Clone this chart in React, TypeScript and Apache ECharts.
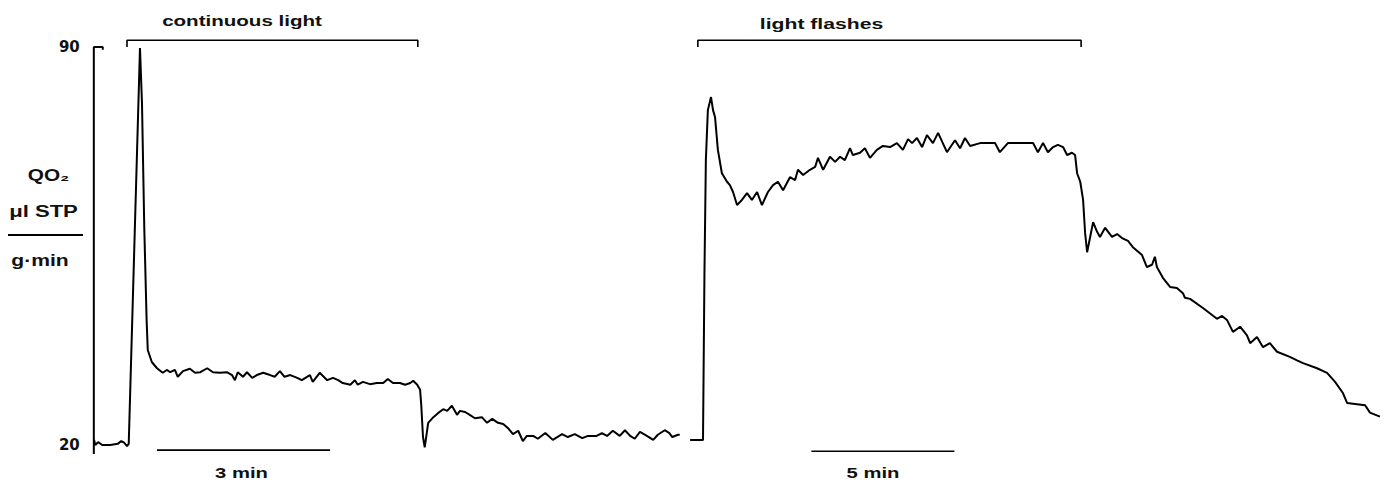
import React, { useEffect, useRef } from "react";
import * as echarts from "echarts";

// ---- data (minutes, QO2 in µl STP / g·min) ----
const leftTrace: [number, number][] = [
  [-0.09, 20.9], [-0.07, 20.0], [-0.02, 20.5], [0.05, 20.0], [0.19, 20.0], [0.32, 20.2],
  [0.38, 20.7], [0.43, 20.4], [0.48, 19.8], [0.51, 20.2], [0.705, 89.8], [0.74, 80],
  [0.78, 58], [0.82, 42], [0.84, 36.7], [0.91, 34.6], [1.0, 33.5], [1.1, 32.7],
  [1.17, 33.2], [1.23, 32.8], [1.31, 33.2], [1.36, 32.0], [1.45, 33.0], [1.57, 33.4],
  [1.66, 32.7], [1.75, 32.8], [1.87, 33.5], [1.97, 32.8], [2.09, 32.7], [2.21, 32.8],
  [2.3, 32.3], [2.35, 31.4], [2.4, 32.8], [2.49, 32.0], [2.56, 32.8], [2.65, 31.8],
  [2.73, 32.3], [2.84, 32.7], [2.96, 32.3], [3.04, 32.0], [3.13, 33.0], [3.21, 32.0],
  [3.31, 32.3], [3.43, 31.8], [3.51, 31.4], [3.65, 32.3], [3.7, 31.1], [3.82, 32.7],
  [3.95, 31.4], [4.05, 31.8], [4.14, 31.4], [4.22, 30.9], [4.35, 30.6], [4.43, 31.4],
  [4.48, 30.6], [4.57, 31.1], [4.69, 30.7], [4.81, 30.9], [4.92, 30.9], [5.0, 31.6],
  [5.09, 30.9], [5.21, 30.9], [5.3, 30.6], [5.39, 30.9], [5.44, 31.3], [5.51, 30.6],
  [5.56, 29.7], [5.58, 27.0], [5.61, 21.4], [5.64, 19.6], [5.7, 23.9], [5.79, 24.9],
  [5.87, 25.6], [5.96, 26.3], [6.03, 26.0], [6.11, 26.9], [6.2, 25.3], [6.25, 26.0],
  [6.34, 25.8], [6.42, 25.3], [6.51, 24.7], [6.63, 24.9], [6.72, 23.9], [6.81, 24.6],
  [6.91, 23.9], [7.0, 23.7], [7.08, 23.0], [7.17, 21.9], [7.26, 22.5], [7.34, 20.7],
  [7.41, 21.6], [7.52, 21.6], [7.6, 21.1], [7.73, 22.1], [7.86, 20.9], [8.02, 21.9],
  [8.12, 21.4], [8.24, 21.9], [8.37, 21.2], [8.47, 21.6], [8.62, 21.6], [8.71, 22.1],
  [8.8, 21.6], [8.9, 22.5], [9.02, 21.6], [9.11, 22.6], [9.2, 21.6], [9.28, 21.1],
  [9.37, 22.3], [9.49, 21.6], [9.6, 20.9], [9.68, 21.8], [9.8, 22.6], [9.88, 22.1],
  [9.93, 21.4], [10.03, 21.8], [10.06, 21.8],
];

const rightTrace: [number, number][] = [
  [-0.24, 20.9], [0.21, 20.9], [0.26, 50], [0.31, 70.1], [0.38, 78.9], [0.49, 81.2],
  [0.56, 78.9], [0.63, 77.7], [0.73, 71.9], [0.87, 67.8], [1.05, 66.3], [1.15, 65.7],
  [1.26, 64.5], [1.4, 62.2], [1.57, 63.1], [1.75, 64.3], [1.92, 63.1], [2.1, 64.5],
  [2.27, 62.2], [2.48, 64.5], [2.66, 65.7], [2.83, 66.3], [3.01, 64.8], [3.25, 67.1],
  [3.43, 66.6], [3.53, 68.4], [3.71, 67.5], [3.95, 68.4], [4.13, 68.9], [4.23, 70.5],
  [4.41, 68.4], [4.65, 70.7], [4.83, 69.8], [5.0, 70.7], [5.17, 70.1], [5.35, 72.2],
  [5.45, 71.0], [5.7, 71.4], [5.87, 72.2], [6.05, 70.5], [6.29, 71.9], [6.5, 72.6],
  [6.75, 72.4], [6.99, 73.1], [7.2, 71.9], [7.38, 73.8], [7.52, 73.1], [7.69, 74.0],
  [7.87, 72.4], [8.04, 74.5], [8.25, 73.1], [8.43, 74.9], [8.74, 71.5], [9.02, 73.6],
  [9.2, 72.2], [9.37, 74.0], [9.55, 72.6], [9.9, 73.1], [10.42, 73.1], [10.59, 71.5],
  [10.87, 73.1], [11.75, 73.1], [11.92, 71.5], [12.1, 73.1], [12.27, 71.5], [12.45, 72.4],
  [12.62, 72.8], [12.8, 72.4], [12.94, 71.0], [13.11, 71.4], [13.22, 71.0], [13.29, 67.8],
  [13.4, 66.3], [13.5, 63.1], [13.57, 57.3], [13.64, 53.9], [13.74, 56.4], [13.85, 59.2],
  [13.99, 57.5], [14.09, 56.6], [14.27, 58.2], [14.51, 56.6], [14.69, 57.1], [14.86, 56.4],
  [15.07, 55.9], [15.24, 54.8], [15.56, 53.4], [15.73, 51.3], [15.91, 51.7], [16.01, 53.1],
  [16.08, 51.3], [16.29, 49.4], [16.54, 47.8], [16.78, 47.6], [16.99, 46.7], [17.06, 45.9],
  [17.24, 45.7], [17.69, 44.1], [18.18, 42.2], [18.36, 42.7], [18.53, 42.0], [18.74, 39.9],
  [18.99, 40.8], [19.23, 39.3], [19.34, 37.9], [19.58, 39.0], [19.79, 37.2], [20.03, 37.9],
  [20.28, 36.4], [20.73, 35.5], [20.98, 34.9], [21.19, 34.4], [21.68, 33.5], [22.03, 32.7],
  [22.31, 31.1], [22.59, 29.1], [22.73, 27.4], [23.36, 27.0], [23.53, 25.7], [23.88, 25.0],
];

// calibration mark at the start of the left record (20 → 90)
const calibration: [number, number][] = [[-0.095, 18.4], [-0.095, 90], [0.06, 90], [0.06, 89.5]];

// light periods (minutes) and scale bars (minutes)
const continuousLight = [0.48, 5.52];
const lightFlashes = [0.03, 13.43];
const leftScaleBar = [1, 4];   // 3 min
const rightScaleBar = [4, 9];  // 5 min
const yTickLabels = [20, 90];

const BRACKET_TOP = 91.2;
const BRACKET_END = 90.0;

const bracket = (p: number[]) => [
  [p[0], BRACKET_END], [p[0], BRACKET_TOP], [p[1], BRACKET_TOP], [p[1], BRACKET_END],
];

export default function App() {
  const ref = useRef<HTMLDivElement>(null);
  useEffect(() => {
    if (!ref.current) return;
    const chart = echarts.init(ref.current, undefined, { renderer: "svg" });
    const ls = { color: "#000", width: 2 };
    const lineSeries = (data: any, xi: number, w = 2) => ({
      type: "line",
      xAxisIndex: xi,
      yAxisIndex: xi,
      data,
      symbol: "none",
      showSymbol: false,
      clip: false,
      silent: true,
      lineStyle: { ...ls, width: w },
    });
    const font = 'bold 15px "Liberation Sans", Arial, sans-serif';
    const txt = (text: string, x: number, y: number, sx: number, size = 15) => ({
      type: "text",
      x,
      y,
      scaleX: sx,
      style: {
        text,
        font: `bold ${size}px "Liberation Sans", Arial, sans-serif`,
        fill: "#111",
        textAlign: "center",
        textVerticalAlign: "middle",
      },
    });
    chart.setOption({
      animation: false,
      backgroundColor: "#fff",
      grid: [
        { left: 87.76, right: 699.16, top: 47, bottom: 39 },
        { left: 685.56, right: 3.6, top: 47, bottom: 39 },
      ],
      xAxis: [
        { type: "value", gridIndex: 0, min: -0.2, max: 10.2, show: false },
        { type: "value", gridIndex: 1, min: -0.4, max: 24, show: false },
      ],
      yAxis: [
        {
          type: "value",
          gridIndex: 0,
          min: 20,
          max: 90,
          interval: 10,
          axisLine: { show: false },
          axisTick: { show: false },
          splitLine: { show: false },
          axisLabel: {
            margin: 8,
            fontFamily: "DejaVu Sans",
            fontWeight: "bold",
            fontSize: 15,
            color: "#111",
            formatter: (v: number) => (yTickLabels.includes(v) ? String(v) : ""),
          },
        },
        { type: "value", gridIndex: 1, min: 20, max: 90, show: false },
      ],
      series: [
        lineSeries(leftTrace, 0),
        lineSeries(calibration, 0),
        lineSeries(bracket(continuousLight), 0, 1.6),
        lineSeries(leftScaleBar.map((t) => [t, 19.1]), 0, 1.6),
        lineSeries(rightTrace, 1),
        lineSeries(bracket(lightFlashes), 1, 1.6),
        lineSeries(rightScaleBar.map((t) => [t, 18.9]), 1, 1.6),
      ],
      graphic: [
        txt("continuous light", 242, 21, 1.37),
        txt("light flashes", 821.5, 24, 1.41),
        txt("3 min", 241.5, 473, 1.35),
        txt("5 min", 873, 473, 1.35),
        txt("QO₂", 48.5, 175, 1.3, 16),
        txt("μl STP", 43.5, 212, 1.38, 16),
        {
          type: "line",
          shape: { x1: 8, y1: 235, x2: 83, y2: 235 },
          style: { stroke: "#000", lineWidth: 2 },
        },
        txt("g·min", 40, 260, 1.32, 16),
      ],
    });
    return () => chart.dispose();
  }, []);
  return (
    <div
      ref={ref}
      style={{ position: "fixed", left: 0, top: 0, width: 1387, height: 484, background: "#fff" }}
    />
  );
}
